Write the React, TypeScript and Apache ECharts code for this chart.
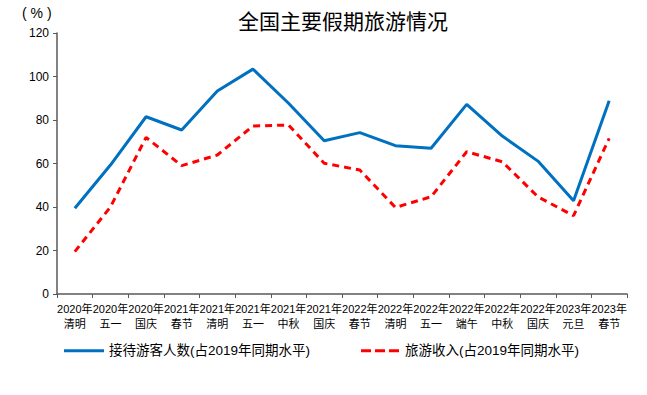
import React, { useEffect, useRef } from "react";
import * as echarts from "echarts";

const years = ["2020年","2020年","2020年","2021年","2021年","2021年","2021年","2021年","2022年","2022年","2022年","2022年","2022年","2022年","2023年","2023年"];
const holidays = ["清明","五一","国庆","春节","清明","五一","中秋","国庆","春节","清明","五一","端午","中秋","国庆","元旦","春节"];
const visitors = [39.4, 59.3, 81.5, 75.4, 93.3, 103.4, 87.7, 70.5, 74.2, 68.2, 67.0, 87.2, 72.6, 61.1, 42.9, 88.9];
const revenue = [19.5, 40.0, 72.0, 59.0, 63.9, 77.2, 77.7, 60.1, 57.0, 39.8, 44.7, 65.4, 60.8, 44.7, 36.0, 71.6];
const yTicks = { min: 0, max: 120, interval: 20 };

const categories = years.map((y, i) => y + "\n" + holidays[i]);
const sans = "Liberation Sans, Arial, Noto Sans CJK SC, sans-serif";

export default function App() {
  const ref = useRef<HTMLDivElement>(null);
  useEffect(() => {
    document.body.style.margin = "0";
    if (!ref.current) return;
    const chart = echarts.init(ref.current, null, { renderer: "svg" });
    chart.setOption({
      animation: false,
      backgroundColor: "#fff",
      title: {
        text: "全国主要假期旅游情况",
        left: 338,
        textAlign: "center",
        top: 4,
        textStyle: { fontSize: 21, fontWeight: "normal", color: "#000", fontFamily: "Noto Sans CJK SC" },
      },
      graphic: [
        {
          type: "text",
          left: 22,
          top: 6,
          style: { text: "( % )", fontSize: 14, fill: "#000", fontFamily: sans },
        },
      ],
      legend: {
        left: 64,
        top: 344,
        padding: 0,
        itemWidth: 40,
        itemHeight: 3,
        itemGap: 51,
        textStyle: { fontSize: 13.5, color: "#000", fontFamily: sans },
        data: [
          { name: "接待游客人数(占2019年同期水平)", icon: "rect", itemStyle: { color: "#0070C0" } },
          {
            name: "旅游收入(占2019年同期水平)",
            icon: "path://M0,0h10v3h-10z M14,0h10v3h-10z M28,0h10v3h-10z",
            itemStyle: { color: "#FF0000" },
          },
        ],
      },
      grid: { left: 57, right: 20, top: 33, bottom: 101 },
      xAxis: {
        type: "category",
        data: categories,
        boundaryGap: true,
        axisLine: { lineStyle: { color: "#595959", width: 1.5 } },
        axisTick: { show: true, length: 4, lineStyle: { color: "#595959" } },
        axisLabel: { interval: 0, fontSize: 11, color: "#000", fontFamily: sans, lineHeight: 15, margin: 7 },
      },
      yAxis: {
        type: "value",
        min: yTicks.min,
        max: yTicks.max,
        interval: yTicks.interval,
        axisLine: { show: true, lineStyle: { color: "#595959", width: 1.5 } },
        axisTick: { show: true, length: 4, lineStyle: { color: "#595959" } },
        splitLine: { show: false },
        axisLabel: { fontSize: 12, color: "#000", fontFamily: sans, margin: 8 },
      },
      series: [
        {
          name: "接待游客人数(占2019年同期水平)",
          type: "line",
          data: visitors,
          symbol: "none",
          lineStyle: { color: "#0070C0", width: 3 },
          itemStyle: { color: "#0070C0" },
        },
        {
          name: "旅游收入(占2019年同期水平)",
          type: "line",
          data: revenue,
          symbol: "none",
          lineStyle: { color: "#FF0000", width: 3, type: [7, 5] },
          itemStyle: { color: "#FF0000" },
        },
      ],
    });
    return () => chart.dispose();
  }, []);
  return <div ref={ref} style={{ width: 647, height: 395 }} />;
}
